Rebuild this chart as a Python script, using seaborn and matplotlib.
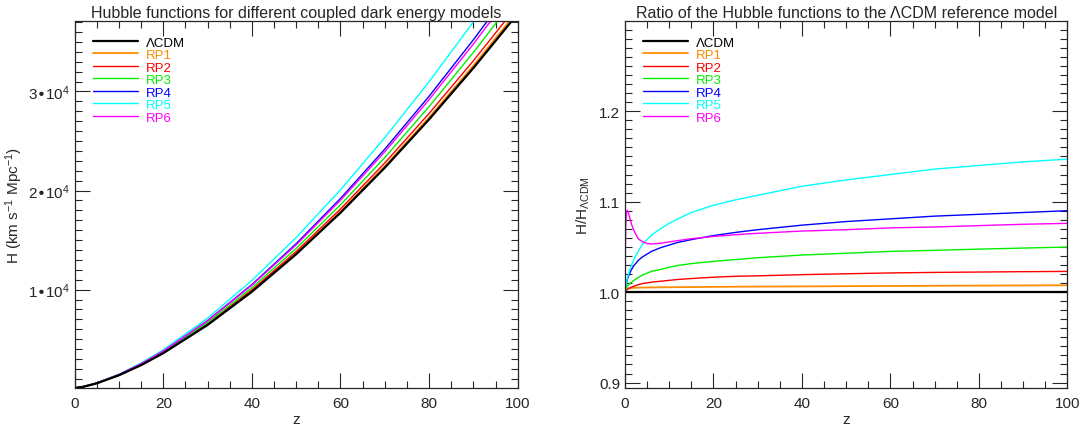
import numpy as np
import pandas as pd
import matplotlib
matplotlib.use('Agg')
import matplotlib.pyplot as plt
import seaborn as sns
from matplotlib.ticker import MultipleLocator, FixedLocator, FuncFormatter

# Hubble functions H(z) in km/s/Mpc
z_h = [0, 2, 5, 10, 15, 20, 30, 40, 50, 60, 70, 80, 90, 100]
h_lcdm = [72, 203, 551, 1361, 2387, 3588, 6435, 9788, 13579, 17762, 22304, 27179, 32364, 37843]
h_rp1 = [72, 204, 554, 1368, 2400, 3609, 6474, 9850, 13669, 17883, 22460, 27375, 32604, 38131]
h_rp2 = [72, 204, 557, 1379, 2423, 3647, 6551, 9977, 13855, 18139, 22790, 27782, 33095, 38710]
h_rp3 = [72, 206, 563, 1398, 2462, 3710, 6680, 10189, 14163, 18561, 23334, 28470, 33940, 39728]
h_rp4 = [72, 209, 574, 1432, 2525, 3812, 6879, 10512, 14638, 19201, 24178, 29516, 35212, 41249]
h_rp5 = [72, 210, 583, 1464, 2597, 3932, 7124, 10933, 15263, 20071, 25337, 30984, 37024, 43406]
h_rp6 = [72, 217, 581, 1437, 2528, 3809, 6853, 10449, 14516, 19023, 23910, 29177, 34791, 40719]

# ratio H/H_LCDM
z_r = [0, 0.1, 0.2, 0.35, 0.5, 0.7, 1, 1.5, 2, 3, 4, 5, 6, 8, 10, 12, 15, 20, 25, 30,
       40, 50, 60, 70, 80, 90, 100]
r_lcdm = [1.0] * len(z_r)
r_rp1 = [1.0, 1.001, 1.0018, 1.0027, 1.0033, 1.0038, 1.0042, 1.0045, 1.0047, 1.0049, 1.005,
         1.0051, 1.0052, 1.0053, 1.0054, 1.0055, 1.0056, 1.0058, 1.006, 1.0061,
         1.0063, 1.0066, 1.0068, 1.007, 1.0072, 1.0074, 1.0076]
r_rp2 = [1.0, 1.001, 1.0015, 1.0025, 1.003, 1.0037, 1.0045, 1.0055, 1.0065, 1.0082, 1.0095,
         1.0103, 1.011, 1.012, 1.013, 1.014, 1.015, 1.0165, 1.0175, 1.018,
         1.0193, 1.0203, 1.0212, 1.0218, 1.0222, 1.0226, 1.0229]
r_rp3 = [1.0, 1.002, 1.003, 1.005, 1.006, 1.0075, 1.009, 1.011, 1.013, 1.016, 1.019,
         1.021, 1.023, 1.025, 1.0275, 1.0295, 1.0315, 1.034, 1.036, 1.038,
         1.041, 1.043, 1.045, 1.0462, 1.0475, 1.0487, 1.0498]
r_rp4 = [1.0, 1.004, 1.007, 1.010, 1.013, 1.016, 1.020, 1.025, 1.029, 1.035, 1.039,
         1.042, 1.045, 1.049, 1.052, 1.055, 1.058, 1.0625, 1.066, 1.069,
         1.074, 1.078, 1.081, 1.084, 1.086, 1.088, 1.090]
r_rp5 = [1.0, 1.004, 1.007, 1.011, 1.014, 1.018, 1.023, 1.030, 1.036, 1.045, 1.053,
         1.058, 1.063, 1.070, 1.076, 1.081, 1.088, 1.096, 1.102, 1.107,
         1.117, 1.124, 1.130, 1.136, 1.140, 1.144, 1.147]
r_rp6 = [1.0, 1.04, 1.075, 1.088, 1.0905, 1.089, 1.084, 1.075, 1.0685, 1.059, 1.0556,
         1.0538, 1.0533, 1.054, 1.0555, 1.057, 1.059, 1.0615, 1.0635, 1.065,
         1.0675, 1.069, 1.071, 1.072, 1.0735, 1.075, 1.076]

models = ['\u039bCDM', 'RP1', 'RP2', 'RP3', 'RP4', 'RP5', 'RP6']
colors = ['black', '#ff8c00', '#ff0000', '#00f000', '#0000ff', '#00ffff', '#ff00ff']
widths = [1.6, 1.3, 1.0, 1.0, 1.0, 1.0, 1.0]
h_all = [h_lcdm, h_rp1, h_rp2, h_rp3, h_rp4, h_rp5, h_rp6]
r_all = [r_lcdm, r_rp1, r_rp2, r_rp3, r_rp4, r_rp5, r_rp6]

sns.set_style('ticks')
plt.rcParams['font.family'] = ['Liberation Sans', 'DejaVu Sans']
plt.rcParams['mathtext.default'] = 'regular'

fig = plt.figure(figsize=(10.83, 4.31), dpi=100)
ax1 = fig.add_axes([0.069, 0.0974, 0.409, 0.852])
ax2 = fig.add_axes([0.577, 0.0974, 0.4086, 0.852])

# draw ΛCDM last so it sits on top like in the original
order = [1, 2, 3, 4, 5, 6, 0]
for i in order:
    sns.lineplot(x=z_h, y=h_all[i], color=colors[i], lw=widths[i], label=models[i], ax=ax1)
    sns.lineplot(x=z_r, y=r_all[i], color=colors[i], lw=widths[i], label=models[i], ax=ax2)

for ax in (ax1, ax2):
    ax.set_xlim(0, 100)
    ax.xaxis.set_major_locator(MultipleLocator(20))
    ax.xaxis.set_minor_locator(MultipleLocator(5))
    ax.tick_params(which='both', direction='in', top=True, right=True, labelsize=11, width=0.8)
    ax.tick_params(which='major', length=11)
    ax.tick_params(which='minor', length=5)
    ax.tick_params(axis='x', pad=6)
    ax.set_xlabel('z', fontsize=11, labelpad=1)
    for s in ax.spines.values():
        s.set_linewidth(0.9)
    handles, labels = ax.get_legend_handles_labels()
    idx = [labels.index(m) for m in models]
    ax.legend([handles[k] for k in idx], [labels[k] for k in idx],
              loc='upper left', bbox_to_anchor=(0.015, 0.99), frameon=False,
              fontsize=9.5, handlelength=3.4, handletextpad=0.6,
              labelspacing=0.02, labelcolor='linecolor')

ax1.set_ylim(70, 37130)
ax1.yaxis.set_major_locator(FixedLocator([1e4, 2e4, 3e4]))
ax1.yaxis.set_minor_locator(MultipleLocator(1000))
ax1.yaxis.set_major_formatter(FuncFormatter(lambda v, p: '%d\u2022$10^4$' % round(v / 1e4)))
ax1.set_ylabel('H (km s$^{-1}$ Mpc$^{-1}$)', fontsize=11)
ax1.yaxis.set_label_coords(-0.112, 0.5)
ax1.set_title('Hubble functions for different coupled dark energy models', fontsize=11.5, pad=3)

ax2.set_ylim(0.894, 1.2999)
ax2.yaxis.set_major_locator(FixedLocator([0.9, 1.0, 1.1, 1.2]))
ax2.yaxis.set_minor_locator(MultipleLocator(0.01))
ax2.yaxis.set_major_formatter(FuncFormatter(lambda v, p: '%.1f' % v))
ax2.set_ylabel('H/H$_{\u039bCDM}$', fontsize=11)
ax2.yaxis.set_label_coords(-0.075, 0.5)
ax2.set_title('Ratio of the Hubble functions to the \u039bCDM reference model', fontsize=11.5, pad=3)

fig.savefig('out.png', dpi=100)
